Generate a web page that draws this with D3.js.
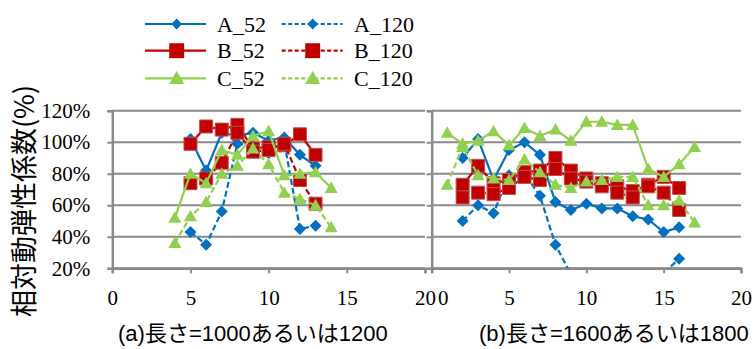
<!DOCTYPE html>
<html>
<head>
<meta charset="utf-8">
<script src="https://cdn.jsdelivr.net/npm/d3@7/dist/d3.min.js"></script>
<style>
  html, body { margin: 0; padding: 0; background: #fff; }
  svg { display: block; }
</style>
</head>
<body>
<svg id="chart" width="755" height="349"></svg>
<script>
// Series names, colours and tick labels
const seriesNames = ["A_52", "A_120", "B_52", "B_120", "C_52", "C_120"];
const seriesColors = { A: "#0070C0", B: "#C00000", C: "#92D050" };
const yTicks = [20, 40, 60, 80, 100, 120];
const xTicks = [0, 5, 10, 15, 20];
const panelTitles = ["(a)長さ=1000あるいは1200", "(b)長さ=1600あるいは1800"];

// (a) length 1000 / 1200
const xAB_a = [5, 6, 7, 8, 9, 10, 11, 12, 13];
const xC_a = [4, 5, 6, 7, 8, 9, 10, 11, 12, 13, 14];
const A52_a = [102, 82, 106, 104, 106, 101, 103, 92, 85];
const A120_a = [43, 35, 56, 99, 98, 93, 100, 45, 47];
const B52_a = [99, 110, 108, 111, 96, 97, 98, 105, 92];
const B120_a = [74, 77, 87, 106, 94, 95, 99, 76, 61];
const C52_a = [52, 80, 74, 95, 92, 104, 107, 79, 80, 81, 71];
const C120_a = [36, 53, 62, 80, 85, 96, 86, 68, 64, 60, 46];

// (b) length 1600 / 1800
const xAB_b = [2, 3, 4, 5, 6, 7, 8, 9, 10, 11, 12, 13, 14, 15, 16];
const xC_b = [1, 2, 3, 4, 5, 6, 7, 8, 9, 10, 11, 12, 13, 14, 15, 16, 17];
const A52_b = [90, 102, 76, 95, 100, 92, 62, 57, 61, 58, 58, 53, 51, 43, 46];
const A120_b = [50, 60, 55, 79, 80, 66, 35, 16, 12, 10, 9, 9, 11, 17, 26];
const B52_b = [73, 85, 74, 76, 81, 82, 90, 82, 77, 74, 72, 69, 73, 78, 71];
const B120_b = [65, 68, 67, 71, 78, 76, 83, 77, 75, 72, 68, 65, 72, 68, 57];
const C52_b = [106, 99, 101, 107, 98, 109, 104, 108, 101, 113, 113, 111, 111, 83, 78, 86, 97];
const C120_b = [73, 97, 79, 77, 76, 89, 81, 73, 71, 75, 76, 78, 78, 60, 60, 63, 49];

const SERIF = '"Liberation Serif"';
const SANS = '"Liberation Sans", Arimo, Arial, "Noto Sans CJK JP", sans-serif';

const svg = d3.select("#chart");
const axisColor = "#8a8a8a";

const y = d3.scaleLinear().domain([20, 120]).range([268.3, 110.7]);

function zip(xs, ys) { return xs.map((x, i) => ({ x, y: ys[i] })); }

const panels = [
  { range: [112.3, 425], title: panelTitles[0], titleX: 118, showY: true, label0dx: 0,
    series: [
      { key: "A", dash: false, data: zip(xAB_a, A52_a) },
      { key: "A", dash: true, data: zip(xAB_a, A120_a) },
      { key: "B", dash: false, data: zip(xAB_a, B52_a) },
      { key: "B", dash: true, data: zip(xAB_a, B120_a) },
      { key: "C", dash: false, data: zip(xC_a, C52_a) },
      { key: "C", dash: true, data: zip(xC_a, C120_a) }
    ] },
  { range: [431.7, 741], title: panelTitles[1], titleX: 479, showY: false, label0dx: 11,
    series: [
      { key: "A", dash: false, data: zip(xAB_b, A52_b) },
      { key: "A", dash: true, data: zip(xAB_b, A120_b) },
      { key: "B", dash: false, data: zip(xAB_b, B52_b) },
      { key: "B", dash: true, data: zip(xAB_b, B120_b) },
      { key: "C", dash: false, data: zip(xC_b, C52_b) },
      { key: "C", dash: true, data: zip(xC_b, C120_b) }
    ] }
];

// marker path generators
function markerPath(key, s) {
  if (key === "A") { const r = 6 * s; return `M0,${-r}L${r},0L0,${r}L${-r},0Z`; }
  if (key === "B") { const h = 6.5 * s; return `M${-h},${-h}H${h}V${h}H${-h}Z`; }
  const w = 6.5 * s, t = 6.5 * s, b = 5 * s;
  return `M0,${-t}L${w},${b}L${-w},${b}Z`;
}

const defs = svg.append("defs");

panels.forEach((p, pi) => {
  const x = d3.scaleLinear().domain([0, 20]).range(p.range);
  const g = svg.append("g");

  // horizontal gridlines
  g.append("g").selectAll("line").data(yTicks).join("line")
    .attr("x1", p.range[0]).attr("x2", p.range[1])
    .attr("y1", d => y(d)).attr("y2", d => y(d))
    .attr("stroke", axisColor).attr("stroke-width", 2);

  // y axis
  const yAxis = d3.axisLeft(y).tickValues(yTicks).tickSize(5).tickPadding(17)
    .tickFormat(d => p.showY ? d + "%" : "");
  const ya = g.append("g").attr("transform", `translate(${p.range[0]},0)`).call(yAxis);
  ya.selectAll(".tick text").style("font-family", SERIF).style("font-size", "21px").attr("fill", "#000");
  ya.select(".domain").attr("stroke", axisColor).attr("stroke-width", 2.5);
  ya.selectAll(".tick line").attr("stroke", axisColor).attr("stroke-width", 2);

  // x axis
  const xAxis = d3.axisBottom(x).tickValues(xTicks).tickSize(5).tickPadding(17);
  const xa = g.append("g").attr("transform", `translate(0,${y(20)})`).call(xAxis);
  xa.selectAll(".tick text").style("font-family", SERIF).style("font-size", "21px").attr("fill", "#000");
  xa.select(".domain").attr("stroke", axisColor).attr("stroke-width", 2.5);
  xa.selectAll(".tick line").attr("stroke", axisColor).attr("stroke-width", 2);
  xa.selectAll(".tick text").filter(d => d === 0).attr("dx", p.label0dx);

  // plot-area clip
  const clipId = "clip" + pi;
  defs.append("clipPath").attr("id", clipId).append("rect")
    .attr("x", p.range[0]).attr("y", y(120) - 10)
    .attr("width", p.range[1] - p.range[0] + 10).attr("height", y(20) - y(120) + 10);

  const plot = g.append("g").attr("clip-path", `url(#${clipId})`);
  const line = d3.line().x(d => x(d.x)).y(d => y(d.y));

  p.series.forEach(s => {
    const col = seriesColors[s.key];
    plot.append("path").datum(s.data)
      .attr("d", line).attr("fill", "none")
      .attr("stroke", col).attr("stroke-width", 2.2)
      .attr("stroke-dasharray", s.dash ? "6,3" : null);
    plot.append("g").selectAll("path").data(s.data.filter(d => d.y >= 20)).join("path")
      .attr("transform", d => `translate(${x(d.x)},${y(d.y)})`)
      .attr("d", markerPath(s.key, 1))
      .attr("fill", col)
      .attr("stroke", s.key === "B" ? "#c0504d" : "none").attr("stroke-width", 1);
  });

  // panel title
  svg.append("text").attr("x", p.titleX).attr("y", 341)
    .style("font-family", SANS)
    .style("font-size", "22px").attr("fill", "#000")
    .text(p.title);
});

// y axis title
svg.append("text")
  .attr("transform", "translate(34,201) rotate(-90)")
  .attr("text-anchor", "middle")
  .style("font-family", '"Noto Sans CJK JP"')
  .style("font-size", "27px").attr("fill", "#000")
  .text("相対動弾性係数(%)");

// legend: two columns, three rows
const legendCols = [{ x1: 145, x2: 206, mx: 176.7, tx: 217, dash: false },
                    { x1: 281.7, x2: 342.7, mx: 312.7, tx: 354, dash: true }];
const legendRows = [{ key: "A", y: 24 }, { key: "B", y: 50.7 }, { key: "C", y: 78.3 }];
const leg = svg.append("g");
legendRows.forEach((r, ri) => {
  legendCols.forEach((c, ci) => {
    const col = seriesColors[r.key];
    leg.append("line").attr("x1", c.x1).attr("x2", c.x2).attr("y1", r.y).attr("y2", r.y)
      .attr("stroke", col).attr("stroke-width", 2.2)
      .attr("stroke-dasharray", c.dash ? "4,2.5" : null);
    leg.append("path").attr("transform", `translate(${c.mx},${r.y})`)
      .attr("d", markerPath(r.key, r.key === "A" ? 0.9 : 1.15))
      .attr("fill", col);
    leg.append("text").attr("x", c.tx).attr("y", r.y + 7.5)
      .style("font-family", SERIF).style("font-size", "22px").attr("fill", "#000")
      .text(seriesNames[ri * 2 + ci]);
  });
});
</script>
</body>
</html>
